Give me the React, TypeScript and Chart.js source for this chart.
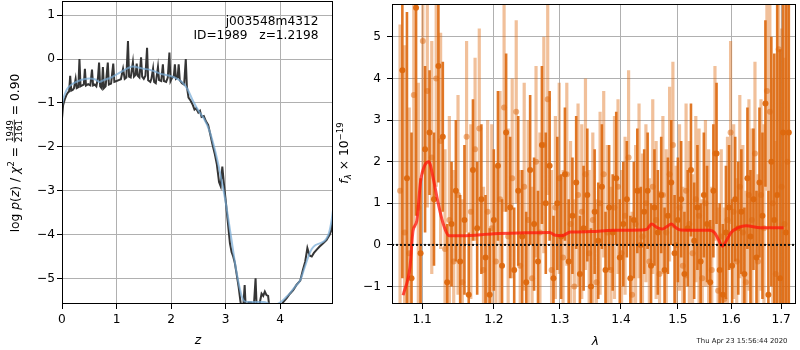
import React, { useEffect, useRef } from "react";
import { Chart, registerables } from "chart.js";

Chart.register(...registerables);

// ---------------- Left panel data: redshift PDF ----------------
const Z_DARK = [
  0.00, 0.02, 0.05, 0.08, 0.11, 0.13, 0.15, 0.17, 0.20, 0.22,
  0.25, 0.27, 0.30, 0.32, 0.34, 0.37, 0.40, 0.42, 0.44, 0.48,
  0.52, 0.55, 0.57, 0.60, 0.63, 0.66, 0.68, 0.70, 0.73, 0.75,
  0.77, 0.80, 0.84, 0.86, 0.90, 0.94, 0.96, 1.00, 1.04, 1.08,
  1.12, 1.15, 1.18, 1.21, 1.23, 1.26, 1.30, 1.32, 1.35, 1.37,
  1.39, 1.42, 1.45, 1.47, 1.50, 1.53, 1.56, 1.58, 1.62, 1.64,
  1.67, 1.69, 1.72, 1.76, 1.78, 1.82, 1.85, 1.87, 1.91, 1.94,
  1.97, 1.99, 2.02, 2.05, 2.07, 2.09, 2.12, 2.14, 2.16, 2.20,
  2.24, 2.27, 2.29, 2.32, 2.36, 2.40, 2.43, 2.46, 2.50, 2.53,
  2.56, 2.60, 2.64, 2.68, 2.72, 2.76, 2.80, 2.84, 2.88, 2.91,
  2.94, 2.97, 3.00, 3.04, 3.08, 3.11, 3.14, 3.17, 3.20, 3.24,
  3.27, 3.30, 3.33, 3.35, 3.37, 3.42, 3.47, 3.52, 3.55, 3.57,
  3.62, 3.66, 3.69, 3.72, 3.75, 3.78, 3.81, 3.90, 3.98, 4.05,
  4.12, 4.18, 4.24, 4.30, 4.37, 4.42, 4.46, 4.50, 4.54, 4.58,
  4.62, 4.66, 4.72, 4.79, 4.85, 4.91, 4.94, 4.97,
];
const LOGP_DARK = [
  -1.35, -1.05, -0.92, -0.82, -0.76, -0.74, -0.38, -0.72, -0.70, -0.66,
  -0.45, -0.66, -0.64, 0.00, -0.62, -0.60, -0.58, -0.22, -0.60, -0.57,
  -0.60, -0.24, -0.60, -0.58, -0.62, -0.42, -0.08, -0.62, -0.67, -0.18,
  -0.66, -0.62, -0.08, -0.58, -0.56, -0.10, -0.52, -0.50, -0.48, -0.46,
  -0.22, -0.45, -0.42, 0.41, -0.40, -0.42, -0.07, -0.40, -0.36, -0.10,
  -0.38, -0.42, 0.04, -0.40, -0.45, -0.38, 0.26, -0.48, -0.52, -0.45,
  -0.22, -0.52, -0.55, -0.18, -0.48, -0.50, -0.12, -0.50, -0.52, -0.42,
  0.15, -0.50, -0.42, -0.40, -0.12, -0.45, -0.42, -0.12, -0.48, -0.55,
  -0.58, 0.00, -0.62, -0.88, -0.95, -1.05, -1.15, -1.12, -1.22, -1.18,
  -1.32, -1.30, -1.42, -1.50, -1.72, -1.95, -2.15, -2.40, -2.80, -2.90,
  -2.45, -2.85, -3.20, -3.70, -4.20, -4.40, -4.50, -4.65, -4.88, -5.20,
  -5.50, -5.75, -5.55, -5.15, -5.70, -5.55, -5.55, -5.60, -5.00, -5.65,
  -5.60, -5.35, -5.40, -5.30, -5.38, -5.40, -5.75, -5.85, -5.70, -5.55,
  -5.45, -5.35, -5.27, -5.15, -5.05, -4.80, -4.62, -4.31, -4.48, -4.50,
  -4.42, -4.36, -4.28, -4.20, -4.13, -4.00, -3.90, -3.65,
];
const Z_SMOOTH = [
  0.00, 0.03, 0.07, 0.12, 0.20, 0.30, 0.40, 0.50, 0.60, 0.69,
  0.78, 0.88, 1.00, 1.10, 1.20, 1.30, 1.40, 1.50, 1.60, 1.70,
  1.80, 1.90, 2.00, 2.10, 2.20, 2.30, 2.40, 2.50, 2.60, 2.70,
  2.80, 2.90, 3.00, 3.10, 3.20, 3.30, 3.36, 3.50, 3.70, 3.80,
  3.90, 4.00, 4.10, 4.18, 4.28, 4.37, 4.45, 4.52, 4.58, 4.65,
  4.73, 4.80, 4.85, 4.90, 4.94, 4.97,
];
const LOGP_SMOOTH = [
  -1.05, -0.88, -0.74, -0.64, -0.56, -0.50, -0.46, -0.44, -0.46, -0.52,
  -0.47, -0.43, -0.35, -0.28, -0.21, -0.17, -0.19, -0.22, -0.24, -0.28,
  -0.33, -0.36, -0.39, -0.44, -0.52, -0.68, -0.95, -1.17, -1.35, -1.62,
  -2.05, -2.60, -3.25, -4.05, -4.85, -5.42, -5.53, -5.54, -5.54, -5.58,
  -5.60, -5.55, -5.44, -5.34, -5.18, -5.04, -4.75, -4.50, -4.33, -4.24,
  -4.20, -4.16, -4.09, -3.95, -3.71, -3.45,
];
const Z_TICKS = [0, 1, 2, 3, 4];
const LOGP_TICKS = [-5, -4, -3, -2, -1, 0, 1];

// ---------------- Right panel data: 1D spectrum ----------------
const WAVE_A = [
  1.071, 1.077, 1.083, 1.089, 1.095, 1.101, 1.107, 1.113, 1.119, 1.125, 1.131, 1.137,
  1.143, 1.149, 1.155, 1.161, 1.167, 1.173, 1.179, 1.185, 1.191, 1.197, 1.203, 1.209,
  1.215, 1.221, 1.227, 1.233, 1.239, 1.245, 1.251, 1.257, 1.263, 1.269, 1.275, 1.281,
  1.287, 1.293, 1.299, 1.305, 1.311, 1.317, 1.323, 1.329, 1.335, 1.341, 1.347, 1.353,
  1.359, 1.365, 1.371, 1.377, 1.383, 1.389, 1.395, 1.401, 1.407, 1.413, 1.419, 1.425,
  1.431, 1.437, 1.443, 1.449, 1.455, 1.461, 1.467, 1.473, 1.479, 1.485, 1.491, 1.497,
  1.503, 1.509, 1.515, 1.521, 1.527, 1.533, 1.539, 1.545, 1.551, 1.557, 1.563, 1.569,
  1.575, 1.581, 1.587, 1.593, 1.599, 1.605, 1.611, 1.617, 1.623, 1.629, 1.635, 1.641,
  1.647, 1.653, 1.659, 1.665, 1.671, 1.677, 1.683, 1.689, 1.695, 1.701, 1.707, 1.713,
];
const FLUX_A = [
  1.3, 0.3, -0.2, 3.6, 0.9, 4.9, 3.7, 2.1, 4.0, 2.5, -0.1, 0.6,
  -0.4, 1.2, -0.9, 2.6, 0.8, 2.3, 2.8, -0.6, 0.8, 0.4, -0.4, 1.1,
  3.3, 0.2, 1.6, 3.2, -0.5, 1.4, 0.6, -0.8, 2.0, 0.3, 2.4, 3.5,
  -0.6, 0.9, 1.6, -0.3, 1.7, 0.5, -1.0, 1.2, 0.8, 1.7, -0.2, 0.6,
  -0.9, 1.0, 1.7, 0.3, -0.6, 0.9, 1.4, -0.2, 0.7, 2.1, -1.2, 0.5,
  1.3, 0.2, 1.0, -0.4, 1.4, 0.6, -0.7, 1.2, 0.3, 1.7, 2.4, 0.0,
  0.9, -0.5, 1.3, 0.5, -0.2, 1.1, 0.7, -0.8, 1.0, 0.4, -0.6, 2.2,
  -1.1, 0.2, -1.3, 0.6, 2.7, 0.8, -0.4, 1.4, 0.3, -0.9, 1.2, 0.6,
  2.2, -0.4, 1.2, 0.4, 3.7, 3.2, 1.0, -0.7, 4.7, 1.4, 0.5, 2.0,
];
const ERR_A = [
  4.0, 4.5, 3.5, 3.2, 3.0, 3.2, 2.8, 2.8, 2.6, 2.6, 2.4, 2.5,
  2.2, 2.4, 2.0, 2.3, 2.1, 2.2, 2.4, 2.0, 2.2, 2.5, 2.3, 2.6,
  2.5, 2.6, 2.4, 2.2, 2.3, 2.5, 2.4, 2.2, 2.3, 2.4, 2.6, 2.3,
  2.4, 2.2, 2.3, 2.1, 2.2, 2.0, 2.1, 2.2, 2.1, 2.3, 2.0, 2.1,
  2.0, 2.2, 2.0, 2.1, 2.0, 2.2, 2.1, 2.0, 1.9, 2.1, 2.0, 1.9,
  2.1, 2.0, 1.9, 2.0, 2.1, 1.9, 2.0, 1.9, 2.0, 2.1, 2.0, 1.9,
  2.0, 1.9, 2.1, 2.0, 1.9, 2.0, 2.1, 1.9, 2.0, 1.9, 2.0, 2.1,
  2.0, 2.1, 2.2, 2.0, 2.2, 2.1, 2.0, 2.2, 2.1, 2.2, 2.3, 2.2,
  2.2, 2.1, 2.3, 2.5, 2.4, 2.8, 3.0, 3.2, 3.5, 3.8, 4.0, 4.5,
];
const WAVE_B = [
  1.074, 1.080, 1.086, 1.092, 1.098, 1.104, 1.110, 1.116, 1.122, 1.128, 1.134, 1.140,
  1.146, 1.152, 1.158, 1.164, 1.170, 1.176, 1.182, 1.188, 1.194, 1.200, 1.206, 1.212,
  1.218, 1.224, 1.230, 1.236, 1.242, 1.248, 1.254, 1.260, 1.266, 1.272, 1.278, 1.284,
  1.290, 1.296, 1.302, 1.308, 1.314, 1.320, 1.326, 1.332, 1.338, 1.344, 1.350, 1.356,
  1.362, 1.368, 1.374, 1.380, 1.386, 1.392, 1.398, 1.404, 1.410, 1.416, 1.422, 1.428,
  1.434, 1.440, 1.446, 1.452, 1.458, 1.464, 1.470, 1.476, 1.482, 1.488, 1.494, 1.500,
  1.506, 1.512, 1.518, 1.524, 1.530, 1.536, 1.542, 1.548, 1.554, 1.560, 1.566, 1.572,
  1.578, 1.584, 1.590, 1.596, 1.602, 1.608, 1.614, 1.620, 1.626, 1.632, 1.638, 1.644,
  1.650, 1.656, 1.662, 1.668, 1.674, 1.680, 1.686, 1.692, 1.698, 1.704, 1.710, 1.716,
];
const FLUX_B = [
  4.2, 1.6, -0.8, 5.7, -0.2, 2.3, 2.7, 1.1, 4.3, 2.6, -0.9, 0.5,
  1.3, -0.4, 0.6, -1.2, 1.8, 0.4, 1.1, -0.3, -1.2, 0.6, 1.9, -0.5,
  2.7, 0.9, -0.6, 1.3, 0.2, -0.9, 1.8, 0.5, -0.4, 2.4, 1.0, 1.9,
  -0.8, 1.0, 0.2, 1.7, -0.4, 0.7, 1.5, -0.7, 0.4, 1.2, -1.0, 0.8,
  0.1, 1.4, -0.6, 0.9, 0.3, 1.6, -0.3, 0.5, 1.1, -0.8, 0.6, 1.3,
  0.0, 0.8, 1.3, -0.5, 0.9, 0.3, 1.2, -0.6, 0.7, 1.5, -0.2, 0.6,
  1.1, -0.7, 0.4, 1.8, 0.1, 0.9, -0.4, 1.2, 0.5, -0.9, 1.3, 2.2,
  -0.6, -1.2, 0.3, 0.9, -0.5, 1.1, 0.4, 0.8, -0.7, 1.6, 0.2, 1.1,
  -0.3, 1.5, 0.7, 3.4, -1.2, 2.0, 0.6, 1.2, -0.8, 2.7, 0.3, 2.7,
];
const ERR_B = [
  5.0, 4.0, 3.5, 5.0, 1.8, 2.0, 1.5, 1.6, 2.8, 1.8, 1.4, 1.5,
  1.7, 1.6, 1.8, 1.5, 1.7, 1.6, 1.8, 1.5, 1.6, 1.7, 1.8, 1.6,
  1.9, 1.7, 1.5, 1.8, 1.6, 1.7, 1.8, 1.6, 1.7, 1.9, 1.7, 1.8,
  1.5, 1.6, 1.5, 1.6, 1.5, 1.4, 1.6, 1.4, 1.5, 1.6, 1.4, 1.5,
  1.4, 1.5, 1.4, 1.5, 1.4, 1.6, 1.4, 1.5, 1.4, 1.5, 1.4, 1.5,
  1.4, 1.5, 1.4, 1.5, 1.4, 1.5, 1.4, 1.5, 1.4, 1.5, 1.4, 1.5,
  1.4, 1.5, 1.4, 1.6, 1.4, 1.5, 1.4, 1.5, 1.4, 1.5, 1.6, 1.7,
  1.6, 1.7, 1.6, 1.5, 1.6, 1.5, 1.6, 1.5, 1.6, 1.7, 1.6, 1.7,
  1.6, 1.8, 2.0, 2.0, 2.5, 3.0, 4.0, 5.0, 5.5, 6.0, 6.0, 6.0,
];
const MODEL_WAVE = [
  1.075, 1.084, 1.088, 1.093, 1.098, 1.104, 1.109, 1.115, 1.121, 1.128,
  1.137, 1.155, 1.200, 1.247, 1.284, 1.293, 1.303, 1.317, 1.350, 1.385,
  1.400, 1.435, 1.445, 1.453, 1.462, 1.472, 1.480, 1.488, 1.496, 1.505,
  1.559, 1.568, 1.576, 1.583, 1.590, 1.600, 1.615, 1.629, 1.658, 1.705,
];
const MODEL_FLUX = [
  -1.21, -0.53, 0.34, 0.58, 1.53, 1.93, 2.00, 1.60, 1.06, 0.54,
  0.22, 0.22, 0.27, 0.29, 0.30, 0.23, 0.22, 0.31, 0.32, 0.35,
  0.35, 0.36, 0.38, 0.50, 0.42, 0.38, 0.44, 0.50, 0.42, 0.36,
  0.35, 0.30, 0.12, -0.03, 0.08, 0.30, 0.42, 0.46, 0.41, 0.41,
];
const WAVE_TICKS = [1.1, 1.2, 1.3, 1.4, 1.5, 1.6, 1.7];
const FLUX_TICKS = [-1, 0, 1, 2, 3, 4, 5];

const TITLE_LINES = ["j003548m4312", "ID=1989   z=1.2198"];
const TIMESTAMP = "Thu Apr 23 15:56:44 2020";

// ---------------- helpers ----------------
const FONT = '"DejaVu Sans", "Liberation Sans", sans-serif';
const BASE = 12.3;
const fN = (s: number) => `${s}px ${FONT}`;
const fI = (s: number) => `italic ${s}px ${FONT}`;

const fmtNum = (v: number) => String(v).replace("-", "\u2212");

type Run = { t?: string; frac?: [string, string]; font: string; dy?: number };

function runWidth(ctx: CanvasRenderingContext2D, r: Run) {
  ctx.font = r.font;
  if (r.frac) {
    return Math.max(ctx.measureText(r.frac[0]).width, ctx.measureText(r.frac[1]).width) + 2;
  }
  return ctx.measureText(r.t || "").width;
}

function drawRuns(ctx: CanvasRenderingContext2D, runs: Run[], cx: number, cy: number, rot: number) {
  ctx.save();
  ctx.translate(cx, cy);
  if (rot) ctx.rotate(rot);
  const widths = runs.map((r) => runWidth(ctx, r));
  const total = widths.reduce((a, b) => a + b, 0);
  let x = -total / 2;
  ctx.fillStyle = "#000";
  ctx.textBaseline = "alphabetic";
  runs.forEach((r, i) => {
    ctx.font = r.font;
    if (r.frac) {
      const w = widths[i];
      const mid = x + w / 2;
      ctx.textAlign = "center";
      ctx.fillText(r.frac[0], mid, -5.6);
      ctx.fillText(r.frac[1], mid, 3.8);
      ctx.fillRect(x + 0.5, -4.6, w - 1, 0.8);
      ctx.textAlign = "left";
    } else {
      ctx.textAlign = "left";
      ctx.fillText(r.t || "", x, r.dy || 0);
    }
    x += widths[i];
  });
  ctx.restore();
}

function errorSegments(w: number[], f: number[], e: number[]) {
  const pts: { x: number; y: number | null }[] = [];
  for (let i = 0; i < w.length; i++) {
    pts.push({ x: w[i], y: f[i] - e[i] });
    pts.push({ x: w[i], y: f[i] + e[i] });
    pts.push({ x: w[i], y: null });
  }
  return pts;
}
const zip = (xs: number[], ys: number[]) => xs.map((x, i) => ({ x, y: ys[i] }));

const framePlugin = {
  id: "frame",
  afterDatasetsDraw(chart: any) {
    const { ctx, chartArea: a } = chart;
    ctx.save();
    ctx.strokeStyle = "#000";
    ctx.lineWidth = 1;
    ctx.strokeRect(Math.round(a.left) + 0.5, Math.round(a.top) + 0.5, Math.round(a.right) - Math.round(a.left) - 1, Math.round(a.bottom) - Math.round(a.top) - 1);
    ctx.restore();
  },
};

const gridOpts = {
  color: "#b0b0b0",
  lineWidth: 1,
  drawTicks: true,
  tickLength: 5,
  tickColor: "#000",
  tickWidth: 1,
};

export default function App() {
  const leftRef = useRef<HTMLCanvasElement>(null);
  const rightRef = useRef<HTMLCanvasElement>(null);

  useEffect(() => {
    Chart.defaults.font.family = FONT;
    Chart.defaults.font.size = 12;
    Chart.defaults.color = "#000";

    const leftText = {
      id: "leftText",
      afterDraw(chart: any) {
        const ctx = chart.ctx as CanvasRenderingContext2D;
        const runs: Run[] = [
          { t: "log ", font: fN(BASE) },
          { t: "p", font: fI(BASE) },
          { t: "(", font: fN(BASE) },
          { t: "z", font: fI(BASE) },
          { t: ") / ", font: fN(BASE) },
          { t: "\u03c7", font: fI(BASE) },
          { t: "2", font: fN(8.6), dy: -5 },
          { t: " = ", font: fN(BASE) },
          { frac: ["1949", "2161"], font: fN(8.6) },
          { t: " = 0.90", font: fN(BASE) },
        ];
        drawRuns(ctx, runs, 18.5, 153, -Math.PI / 2);
        drawRuns(ctx, [{ t: "z", font: fI(BASE) }], 198, 344, 0);
        ctx.save();
        ctx.fillStyle = "#000";
        ctx.font = fN(12.2);
        ctx.textAlign = "right";
        ctx.textBaseline = "alphabetic";
        ctx.fillText(TITLE_LINES[0], 318.5, 24.5);
        ctx.fillText(TITLE_LINES[1], 318.5, 38.5);
        ctx.restore();
      },
    };

    const OFF = 335;
    const rightText = {
      id: "rightText",
      afterDraw(chart: any) {
        const ctx = chart.ctx as CanvasRenderingContext2D;
        drawRuns(
          ctx,
          [
            { t: "f", font: fI(BASE) },
            { t: "\u03bb", font: fI(8.6), dy: 3 },
            { t: " \u00d7 10", font: fN(BASE) },
            { t: "\u221219", font: fN(8.6), dy: -5 },
          ],
          348 - OFF,
          153,
          -Math.PI / 2
        );
        drawRuns(ctx, [{ t: "\u03bb", font: fI(BASE) }], 595.5 - OFF, 344.5, 0);
        ctx.save();
        ctx.fillStyle = "#222";
        ctx.font = fN(6.9);
        ctx.textAlign = "right";
        ctx.textBaseline = "alphabetic";
        ctx.fillText(TIMESTAMP, 787.5 - OFF, 342.5);
        ctx.restore();
      },
    };

    const c1 = new Chart(leftRef.current!, {
      type: "line",
      data: {
        datasets: [
          {
            data: zip(Z_SMOOTH, LOGP_SMOOTH),
            borderColor: "rgba(120,172,215,0.72)",
            borderWidth: 2,
            pointRadius: 0,
            cubicInterpolationMode: "monotone",
            clip: 0,
          } as any,
          {
            data: zip(Z_DARK, LOGP_DARK),
            borderColor: "#353535",
            borderWidth: 2,
            pointRadius: 0,
            tension: 0,
            clip: 0,
          },
        ],
      },
      options: {
        responsive: false,
        animation: false,
        devicePixelRatio: 1,
        events: [],
        layout: { padding: { top: 1, right: 7, left: 0, bottom: 0 } },
        plugins: { legend: { display: false }, tooltip: { enabled: false } },
        scales: {
          x: {
            type: "linear",
            min: 0,
            max: 4.97,
            afterBuildTicks: (s: any) => {
              s.ticks = Z_TICKS.map((v) => ({ value: v }));
            },
            afterFit: (s: any) => {
              s.height = 46;
              s.paddingLeft = 0;
              s.paddingRight = 0;
            },
            grid: gridOpts,
            border: { display: false },
            ticks: { color: "#000", font: { size: 12.2 }, padding: 4, maxRotation: 0, autoSkip: false, callback: (v: any) => fmtNum(v) },
          },
          y: {
            type: "linear",
            min: -5.584,
            max: 1.325,
            afterBuildTicks: (s: any) => {
              s.ticks = LOGP_TICKS.map((v) => ({ value: v }));
            },
            afterFit: (s: any) => {
              s.width = 62;
              s.paddingTop = 0;
              s.paddingBottom = 0;
            },
            grid: gridOpts,
            border: { display: false },
            ticks: { color: "#000", font: { size: 12.2 }, padding: 2, autoSkip: false, callback: (v: any) => fmtNum(v) },
          },
        },
      },
      plugins: [framePlugin, leftText],
    });

    const c2 = new Chart(rightRef.current!, {
      type: "line",
      data: {
        datasets: [
          {
            data: [
              { x: 1.0606, y: 0 },
              { x: 1.731, y: 0 },
            ],
            borderColor: "#111",
            borderWidth: 2,
            borderDash: [2, 2],
            pointRadius: 0,
            clip: 0,
          },
          {
            data: zip(MODEL_WAVE, MODEL_FLUX),
            borderColor: "rgba(255,20,10,0.75)",
            borderWidth: 3,
            pointRadius: 0,
            cubicInterpolationMode: "monotone",
            clip: 0,
          } as any,
          {
            data: zip(WAVE_B, FLUX_B),
            showLine: false,
            pointRadius: 3,
            pointBackgroundColor: "rgba(221,104,14,0.95)",
            pointBorderWidth: 0,
            borderColor: "rgba(0,0,0,0)",
            clip: 0,
          },
          {
            data: errorSegments(WAVE_B, FLUX_B, ERR_B),
            borderColor: "rgba(221,104,14,0.9)",
            borderWidth: 2.6,
            borderCapStyle: "butt",
            pointRadius: 0,
            spanGaps: false,
            clip: 0,
          },
          {
            data: zip(WAVE_A, FLUX_A),
            showLine: false,
            pointRadius: 3,
            pointBackgroundColor: "rgba(221,104,14,0.5)",
            pointBorderWidth: 0,
            borderColor: "rgba(0,0,0,0)",
            clip: 0,
          },
          {
            data: errorSegments(WAVE_A, FLUX_A, ERR_A),
            borderColor: "rgba(221,104,14,0.42)",
            borderWidth: 3.2,
            borderCapStyle: "butt",
            pointRadius: 0,
            spanGaps: false,
            clip: 0,
          },
        ],
      },
      options: {
        responsive: false,
        animation: false,
        devicePixelRatio: 1,
        events: [],
        layout: { padding: { top: 1, right: 1, left: 0, bottom: 0 } },
        plugins: { legend: { display: false }, tooltip: { enabled: false } },
        scales: {
          x: {
            type: "logarithmic",
            min: 1.0606,
            max: 1.731,
            afterBuildTicks: (s: any) => {
              s.ticks = WAVE_TICKS.map((v) => ({ value: v }));
            },
            afterFit: (s: any) => {
              s.height = 46;
              s.paddingLeft = 0;
              s.paddingRight = 0;
            },
            grid: gridOpts,
            border: { display: false },
            ticks: { color: "#000", font: { size: 12.2 }, padding: 4, maxRotation: 0, autoSkip: false, callback: (v: any) => Number(v).toFixed(1) },
          },
          y: {
            type: "linear",
            min: -1.42,
            max: 5.79,
            afterBuildTicks: (s: any) => {
              s.ticks = FLUX_TICKS.map((v) => ({ value: v }));
            },
            afterFit: (s: any) => {
              s.width = 57;
              s.paddingTop = 0;
              s.paddingBottom = 0;
            },
            grid: gridOpts,
            border: { display: false },
            ticks: { color: "#000", font: { size: 12.2 }, padding: 6, autoSkip: false, callback: (v: any) => fmtNum(v) },
          },
        },
      },
      plugins: [framePlugin, rightText],
    });

    return () => {
      c1.destroy();
      c2.destroy();
    };
  }, []);

  return (
    <div style={{ position: "absolute", left: 0, top: 0, width: 800, height: 350, background: "#fff" }}>
      <canvas ref={leftRef} width={340} height={350} style={{ position: "absolute", left: 0, top: 0, width: 340, height: 350 }} />
      <canvas ref={rightRef} width={465} height={350} style={{ position: "absolute", left: 335, top: 0, width: 465, height: 350 }} />
    </div>
  );
}
